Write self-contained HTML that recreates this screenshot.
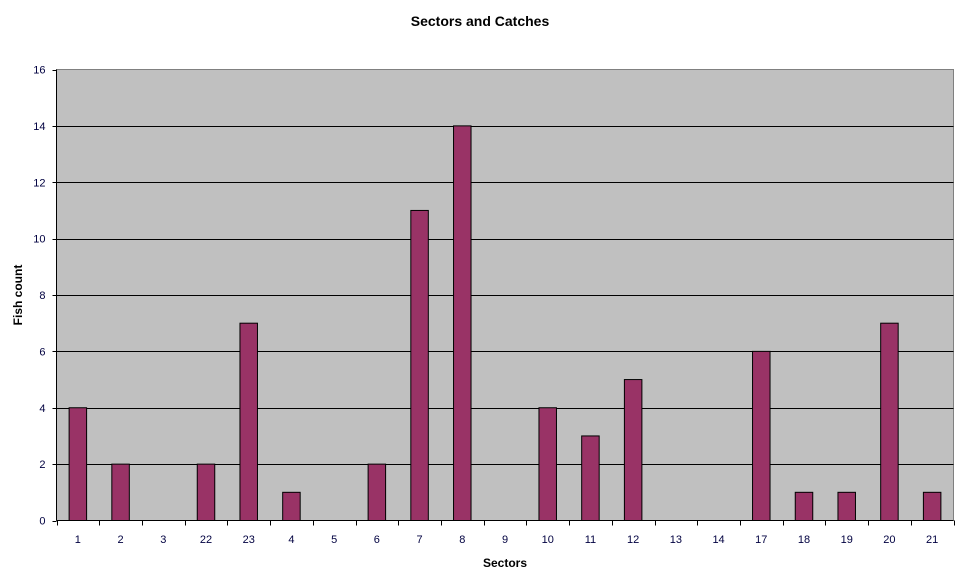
<!DOCTYPE html>
<html><head><meta charset="utf-8"><style>
body{margin:0;background:#fff;font-family:"Liberation Sans",Arial,sans-serif;}
</style></head><body>
<svg width="963" height="578" xmlns="http://www.w3.org/2000/svg">
<text x="480" y="26" text-anchor="middle" font-size="14" font-weight="bold">Sectors and Catches</text>
<rect x="56.5" y="69.5" width="897" height="451" fill="#c0c0c0" stroke="#808080"/>
<g id="grid"></g><g id="bars"></g><g id="axes"></g>
<text x="505" y="567" text-anchor="middle" font-size="12" font-weight="bold">Sectors</text>
<text transform="translate(22,295) rotate(-90)" text-anchor="middle" font-size="12" font-weight="bold">Fish count</text>
</svg>
<script>
const categories=["1","2","3","22","23","4","5","6","7","8","9","10","11","12","13","14","17","18","19","20","21"];
const values=[4,2,0,2,7,1,0,2,11,14,0,4,3,5,0,0,6,1,1,7,1];
const yTicks=[0,2,4,6,8,10,12,14,16];
const NS="http://www.w3.org/2000/svg";
const L=56.5,R=953.5,T=69.5,B=520.5,yMax=16;
const cw=(R-L)/categories.length;
function y(v){return B-(B-T)*v/yMax;}
function x(i){return L+cw*i;}
function mk(t,a,p){const e=document.createElementNS(NS,t);for(const k in a)e.setAttribute(k,a[k]);p.appendChild(e);return e;}
const g=document.getElementById('grid'),b=document.getElementById('bars'),ax=document.getElementById('axes');
yTicks.forEach(v=>{
 if(v>0&&v<yMax){const l=mk('line',{x1:L,x2:R,y1:Math.round(y(v))+.5,y2:Math.round(y(v))+.5,stroke:'#000','stroke-width':1},g);
 
 }
 const tk=mk('line',{x1:L-4,x2:L,y1:Math.round(y(v))+.5,y2:Math.round(y(v))+.5,stroke:'#000'},ax);
 
 
 const t=mk('text',{x:L-11,y:y(v)+4,'text-anchor':'end','font-size':11,fill:'#000040'},ax);
 t.textContent=v;
 
 
});
values.forEach((v,i)=>{
 const bw=17.5,cx=x(i)+cw/2;
 if(v>0){const r=mk('rect',{x:cx-bw/2,y:y(v),width:bw,height:B-y(v),fill:'#993366',stroke:'#000','stroke-width':1},b);
 
 }
 const t=mk('text',{x:cx,y:543,'text-anchor':'middle','font-size':11,fill:'#000040'},ax);
 t.textContent=categories[i];
 
 
});
for(let i=0;i<=categories.length;i++){
 const tk=mk('line',{x1:Math.round(x(i))+.5,x2:Math.round(x(i))+.5,y1:B,y2:B+5,stroke:'#000'},ax);
 
 
}
const xa=mk('line',{x1:L,x2:R,y1:B,y2:B,stroke:'#000'},ax);


const ya=mk('line',{x1:L,x2:L,y1:T,y2:B,stroke:'#000'},ax);


</script>
</body></html>
